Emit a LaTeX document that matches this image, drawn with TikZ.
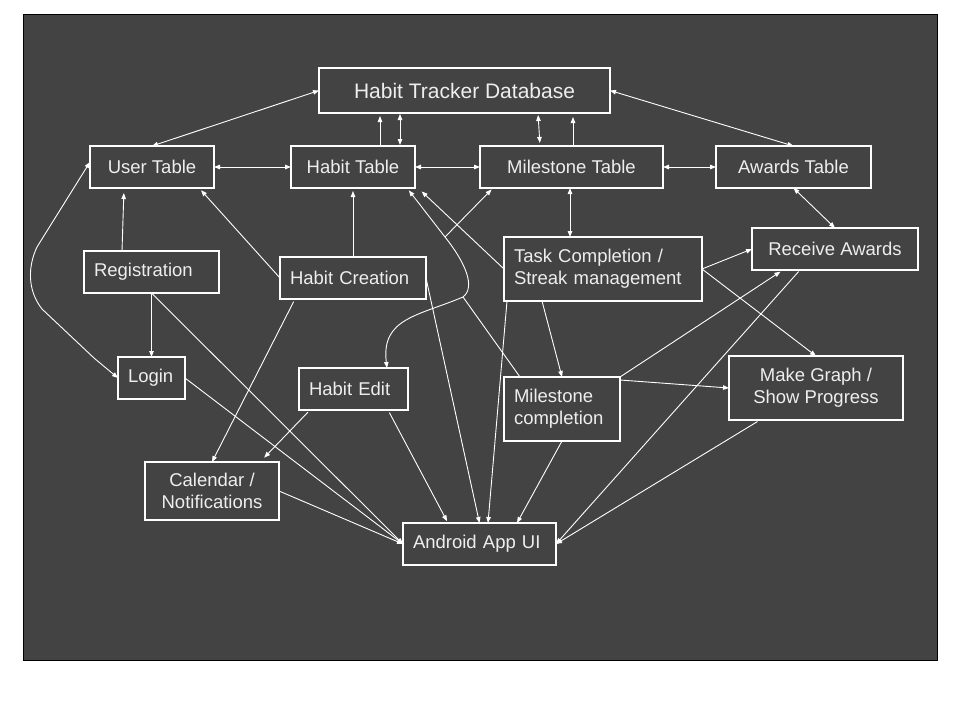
\documentclass[tikz,border=0pt]{standalone}
\usepackage{fontspec}
\setmainfont{Liberation Sans}
\usetikzlibrary{arrows.meta,calc}
\definecolor{bggray}{HTML}{434343}
\definecolor{txt}{HTML}{EEEEEE}
\tikzset{
    box/.style={draw=white,
            line width=1.1pt,
            text=txt,
            font=\fontsize{18.5}{22}\selectfont,
            anchor=north west,
            inner sep=0pt,
            outer sep=0pt},
    lbox/.style={box,
            align=left,
            inner xsep=10pt,
            text width=#1},
    cbox/.style={box,
            align=center,
            minimum width=#1},
    link/.style={draw=white, line width=0.9pt},
}
\begin{document}
\begin{tikzpicture}[x=1pt,y=-1pt,>={Triangle[length=6pt,width=4.5pt]}]
\useasboundingbox (0,0) rectangle (960,720);
\fill[white] (0,0) rectangle (960,720);
\draw[black, fill=bggray] (23,14) rectangle (937,660);
% tables
\node[cbox=291pt, minimum height=45pt, font=\fontsize{21}{25}\selectfont] (db) at (319,68) {Habit Tracker Database};
\node[cbox=124pt, minimum height=42pt] (user) at (90,146) {User Table};
\node[cbox=124pt, minimum height=42pt] (habit) at (291,146) {Habit Table};
\node[cbox=183pt, minimum height=42pt] (mile) at (480,146) {Milestone Table};
\node[cbox=155pt, minimum height=42pt] (awards) at (716,146) {Awards Table};
% actions
\node[lbox=115pt, minimum height=42pt] (reg) at (84,251) {Registration};
\node[lbox=126pt, minimum height=42pt] (create) at (280,257) {Habit Creation};
\node[lbox=178pt, minimum height=64pt] (task) at (504,237) {Task Completion /\\Streak management};
\node[cbox=166pt, minimum height=42pt] (recv) at (752,228) {Receive Awards};
\node[lbox=47pt, minimum height=42pt] (login) at (118,357) {Login};
\node[lbox=89pt, minimum height=42pt] (edit) at (299,368) {Habit Edit};
\node[lbox=96pt, minimum height=64pt] (mcomp) at (504,377) {Milestone\\completion};
\node[cbox=174pt, minimum height=64pt] (graph) at (729,356) {Make Graph /\\Show Progress};
\node[cbox=134pt, minimum height=58pt] (cal) at (145,462) {Calendar /\\Notifications};
\node[lbox=133pt, minimum height=42pt] (app) at (403,523) {Android App UI};
\coordinate (tap1) at (445,237);
\coordinate (tap2) at (463,297);
% table links
\draw[link,<->] (user.north) -- (db.west);
\draw[link,<->] (user.east) -- (habit.west);
\draw[link,<->] (habit.east) -- (mile.west);
\draw[link,<->] (mile.east) -- (awards.west);
\draw[link,<->] (db.east) -- (awards.north);
\draw[link,->,shorten >=3pt] ([xshift=27pt]habit.north) -- ([xshift=-84.5pt]db.south);
\draw[link,<->,shorten <=1pt,shorten >=1pt] ([xshift=47pt]habit.north) -- ([xshift=-64.5pt]db.south);
\draw[link,<->,shorten <=3pt,shorten >=2pt] ([xshift=-31.5pt]mile.north) -- ([xshift=73.5pt]db.south);
\draw[link,->,shorten >=4pt] ([xshift=1.5pt]mile.north) -- ([xshift=108.5pt]db.south);
\draw[link,<->] ([xshift=-1.5pt]mile.south) -- ([xshift=-33pt]task.north);
\draw[link,<->] (awards.south) -- (recv.north);
% user side
\draw[link,->,shorten >=5pt] ([xshift=-29.5pt]reg.north) -- ([xshift=-28pt]user.south);
\draw[link,->] (reg.south) -- (login.north);
\draw[link,<->] ([yshift=5pt]user.west) -- (37,247) .. controls (28,266) and (27,290) .. (42,309) -- (94,358) -- (login.west);
\draw[link,->,shorten >=3pt] (create.west) -- ([xshift=-15pt]user.south east);
\draw[link,->,shorten >=3pt] (create.north) -- (habit.south);
% habit edit curve
\draw[link,<->,shorten <=3pt] ([xshift=-8pt]habit.south east) -- (tap1) .. controls (465,262) and (476,287) .. (tap2) .. controls (418,316) and (381,318) .. ([xshift=33.5pt]edit.north);
\draw[link,->,shorten >=2pt] (tap1) -- ([xshift=13pt]mile.south west);
\draw[link] (tap2) -- ([xshift=16pt]mcomp.north west);
\draw[link,->,shorten >=5pt] (task.west) -- ([xshift=3pt]habit.south east);
% to the app
\draw[link,->] (create.east) -- (app.north);
\draw[link,->,shorten <=3pt] ([xshift=15pt]create.south west) -- (cal.north);
\draw[link,->,shorten <=3pt,shorten >=6pt] ([xshift=11pt]edit.south west) -- ([xshift=-19pt]cal.north east);
\draw[link,->,shorten <=3pt,shorten >=2pt] ([xshift=-20pt]edit.south east) -- ([xshift=45pt]app.north west);
\draw[link,->] (reg.south) -- (app.west);
\draw[link,->] (login.east) -- (app.west);
\draw[link,->] (cal.east) -- (app.west);
\draw[link,->] ([xshift=3pt]task.south west) -- ([xshift=8.5pt]app.north);
\draw[link,->] ([xshift=38pt]task.south west) -- (mcomp.north);
\draw[link,->] (task.east) -- (recv.west);
\draw[link,->] (task.east) -- (graph.north);
\draw[link,->,shorten >=3pt] (mcomp.north east) -- ([xshift=31pt]recv.south west);
\draw[link,->] ([yshift=-3pt]mcomp.north east) -- (graph.west);
\draw[link,->] (mcomp.south) -- ([xshift=-39pt]app.north east);
\draw[link,->,shorten <=2pt] ([xshift=48pt]recv.south west) -- (app.east);
\draw[link,->,shorten <=3pt] ([xshift=31pt]graph.south west) -- (app.east);
\end{tikzpicture}
\end{document}
